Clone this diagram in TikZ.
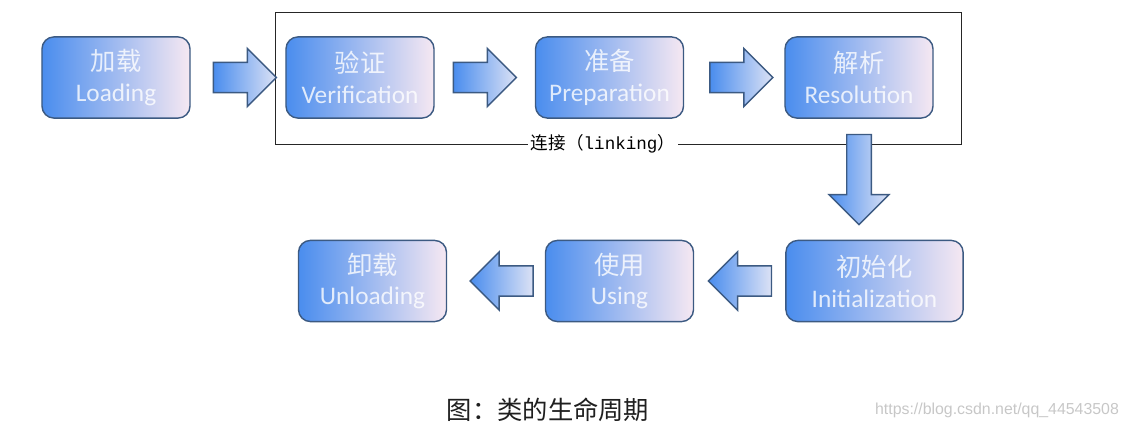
\documentclass[tikz,border=0pt]{standalone}
\usepackage{fontspec}
\setmainfont{Carlito}
\setsansfont{Liberation Sans}
\setmonofont{Liberation Mono}
\newfontfamily\cjk{Noto Sans CJK SC}
\usetikzlibrary{shapes.arrows}
\usetikzlibrary{calc}
\usetikzlibrary{positioning}

\definecolor{boxblue}{HTML}{4A8DEE}
\definecolor{boxpink}{HTML}{F6E8F2}
\definecolor{boxline}{HTML}{3C5A82}
\definecolor{tiplight}{HTML}{DCE2F5}

\begin{document}
\begin{tikzpicture}[x=0.025cm, y=0.025cm,
    stage/.style={draw=boxline, line width=1pt, rounded corners=0.3cm,
        left color=boxblue, right color=boxpink,
        minimum width=3.7cm, minimum height=2.03cm,
        text=white, text opacity=0.8, align=center,
        font=\fontsize{18}{22}\selectfont},
    flow/.style={single arrow, draw=boxline, line width=1pt,
        inner xsep=0pt, inner ysep=0.36cm,
        single arrow head extend=0.35cm, single arrow tip angle=90,
        minimum height=1.575cm, minimum width=1.425cm,
        left color=boxblue, right color=tiplight}
    ]
    \useasboundingbox (0,0) rectangle (1130,430);

    % Linking frame
    \draw[line width=0.7pt, black!85] (275,286) rectangle (961,418);
    \node[fill=white, inner sep=2pt, font=\fontsize{12.5}{14}\selectfont] (link) at (603,286)
        {{\cjk 连接（}{\ttfamily linking}{\cjk ）}};

    % Top row
    \node[stage] (load) at (116,352.5) {{\cjk 加载}\\Loading};
    \node[stage] (ver) at (360,352.5) {{\cjk 验证}\\Verification};
    \node[stage] (prep) at (609.5,352.5) {{\cjk 准备}\\Preparation};
    \node[stage] (res) at (859,352.5) {{\cjk 解析}\\Resolution};

    % Bottom row
    \node[stage, minimum width=4.43cm] (init) at (874.5,149) {{\cjk 初始化}\\Initialization};
    \node[stage] (use) at (619.5,149) {{\cjk 使用}\\Using};
    \node[stage] (unload) at (372.5,149) {{\cjk 卸载}\\Unloading};

    % Arrows (anchor west = tail)
    \node[flow, right=0.55cm of load] (a1) {};
    \node[flow, right=0.45cm of ver] (a2) {};
    \node[flow, right=0.625cm of prep] (a3) {};
    \node[flow, rotate=-90, anchor=west, minimum height=2.25cm, minimum width=1.45cm,
        inner ysep=0.29cm, single arrow head extend=0.44cm] (a4) at ($(res.south)+(0,-15)$) {};
    \node[flow, rotate=180, anchor=west] (a5) at ($(init.west)+(-13,0)$) {};
    \node[flow, rotate=180, anchor=west] (a6) at ($(use.west)+(-11,0)$) {};

    % Caption
    \node[font=\cjk\fontsize{18}{20}\selectfont, text=black!88] (cap) at (548,20) {图：类的生命周期};
    \node[text=black!22, font=\sffamily\fontsize{11.3}{13}\selectfont] (mark) at (997,20)
        {https://blog.csdn.net/qq\_44543508};
\end{tikzpicture}
\end{document}
